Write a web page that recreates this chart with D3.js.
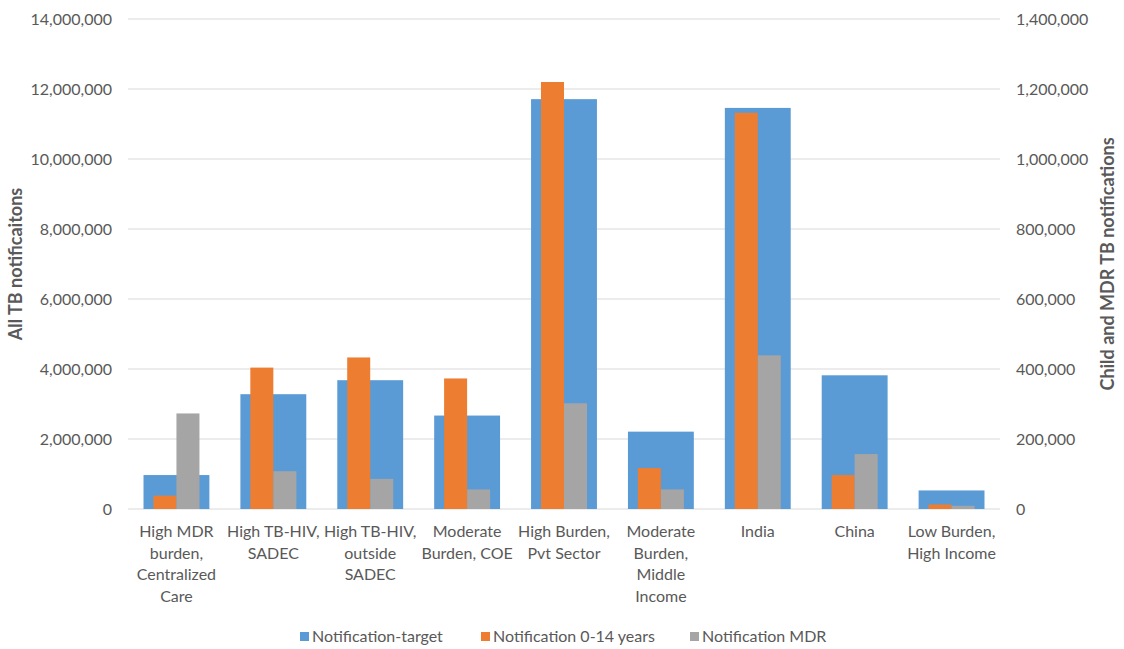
<!DOCTYPE html>
<html>
<head>
<meta charset="utf-8">
<script src="https://cdn.jsdelivr.net/npm/d3@7"></script>
<style>
  body { margin: 0; background: #fff; }
  svg { font-family: Lato, "Open Sans", sans-serif; }
</style>
</head>
<body>
<svg id="chart" width="1124" height="649"></svg>
<script>
const categories = [
  "High MDR\nburden,\nCentralized\nCare",
  "High TB-HIV,\nSADEC",
  "High TB-HIV,\noutside\nSADEC",
  "Moderate\nBurden, COE",
  "High Burden,\nPvt Sector",
  "Moderate\nBurden,\nMiddle\nIncome",
  "India",
  "China",
  "Low Burden,\nHigh Income"
];
const notificationTarget = [970000, 3280000, 3680000, 2670000, 11710000, 2210000, 11460000, 3820000, 530000];
const notificationChild = [38000, 404000, 433000, 373000, 1220000, 117000, 1132000, 97000, 13000];
const notificationMDR = [273000, 108000, 86000, 56000, 302000, 56000, 439000, 157000, 9000];
const leftTicks = [0, 2000000, 4000000, 6000000, 8000000, 10000000, 12000000, 14000000];
const rightTicks = [0, 200000, 400000, 600000, 800000, 1000000, 1200000, 1400000];
const seriesNames = ["Notification-target", "Notification 0-14 years", "Notification MDR"];
const colors = ["#5B9BD5", "#ED7D31", "#A5A5A5"];

(function () {
const svg = d3.select("#chart");
const pLeft = 128, pRight = 1000, pTop = 19, pBottom = 509;
const textColor = "#595959";
const fs = "16px";

const x = d3.scaleBand().domain(d3.range(categories.length)).range([pLeft, pRight]).paddingInner(0.32).paddingOuter(0.16);
const xOuter = d3.scaleBand().domain(d3.range(categories.length)).range([pLeft, pRight]);
const yL = d3.scaleLinear().domain([0, 14000000]).range([pBottom, pTop]);
const yR = d3.scaleLinear().domain([0, 1400000]).range([pBottom, pTop]);
const fmt = d3.format(",");

// gridlines
svg.append("g").selectAll("line").data(leftTicks).join("line")
  .attr("x1", pLeft).attr("x2", pRight)
  .attr("y1", d => yL(d)).attr("y2", d => yL(d))
  .attr("stroke", "#D9D9D9").attr("stroke-width", 1.2);

// left axis
const axL = svg.append("g").attr("transform", `translate(${pLeft},0)`)
  .call(d3.axisLeft(yL).tickValues(leftTicks).tickFormat(fmt).tickSize(0).tickPadding(16));
axL.select(".domain").remove();
axL.selectAll("text").attr("fill", textColor).style("font-size", fs).style("font-family", "Lato, sans-serif");

// right axis
const axR = svg.append("g").attr("transform", `translate(${pRight},0)`)
  .call(d3.axisRight(yR).tickValues(rightTicks).tickFormat(fmt).tickSize(0).tickPadding(16));
axR.select(".domain").remove();
axR.selectAll("text").attr("fill", textColor).style("font-size", fs).style("font-family", "Lato, sans-serif");

// blue bars (left axis)
svg.append("g").selectAll("rect").data(notificationTarget).join("rect")
  .attr("x", (d, i) => x(i)).attr("width", x.bandwidth())
  .attr("y", d => yL(d)).attr("height", d => pBottom - yL(d))
  .attr("fill", colors[0]);

// orange and gray bars (right axis)
const inner = d3.scaleBand().domain([0, 1]).range([0, xOuter.bandwidth() * 0.475]);
const offset = (xOuter.bandwidth() - xOuter.bandwidth() * 0.475) / 2;
[notificationChild, notificationMDR].forEach((arr, k) => {
  svg.append("g").selectAll("rect").data(arr).join("rect")
    .attr("x", (d, i) => xOuter(i) + offset + inner(k)).attr("width", inner.bandwidth())
    .attr("y", d => yR(d)).attr("height", d => pBottom - yR(d))
    .attr("fill", colors[k + 1]);
});

// x labels
const xl = svg.append("g");
categories.forEach((c, i) => {
  const t = xl.append("text").attr("text-anchor", "middle").attr("fill", textColor)
    .style("font-size", fs);
  c.split("\n").forEach((line, j) => {
    t.append("tspan").attr("x", xOuter(i) + xOuter.bandwidth() / 2).attr("y", 537 + j * 21.7).text(line);
  });
});

// axis titles
svg.append("text").attr("transform", `translate(22,${(pTop + pBottom) / 2}) rotate(-90)`)
  .attr("text-anchor", "middle").attr("fill", textColor).style("font-size", "18px").style("font-weight", "bold")
  .text("All TB notificaitons");
svg.append("text").attr("transform", `translate(1114,${(pTop + pBottom) / 2}) rotate(-90)`)
  .attr("text-anchor", "middle").attr("fill", textColor).style("font-size", "18px").style("font-weight", "bold")
  .text("Child and MDR TB notifications");

// legend
const legendX = [300, 481, 690];
const lg = svg.append("g");
seriesNames.forEach((s, i) => {
  lg.append("rect").attr("x", legendX[i]).attr("y", 632).attr("width", 9).attr("height", 9).attr("fill", colors[i]);
  lg.append("text").attr("x", legendX[i] + 12).attr("y", 642).attr("fill", textColor)
    .style("font-size", fs).text(s);
});
})();
</script>
</body>
</html>
